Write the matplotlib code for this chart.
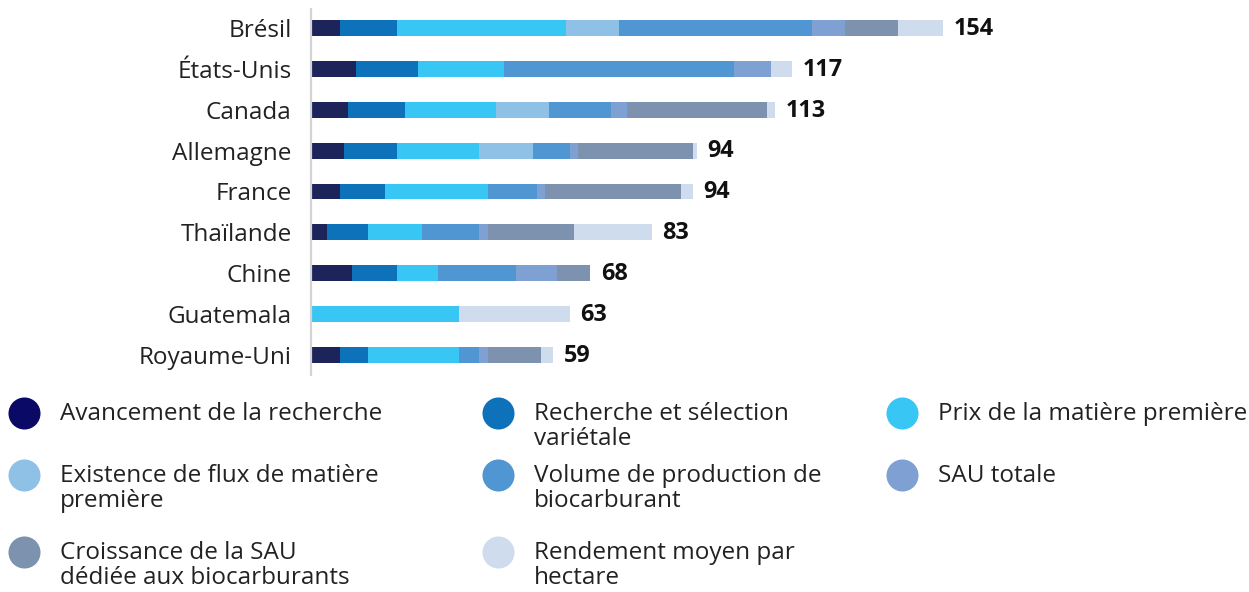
import numpy as np
import matplotlib
matplotlib.use("Agg")
import matplotlib.pyplot as plt

plt.rcParams['font.family'] = ['Open Sans', 'DejaVu Sans']

# données
pays = ['Brésil', 'États-Unis', 'Canada', 'Allemagne', 'France',
        'Thaïlande', 'Chine', 'Guatemala', 'Royaume-Uni']
totaux = [154, 117, 113, 94, 94, 83, 68, 63, 59]

avancement = [7, 11, 9, 8, 7, 4, 10, 0, 7]
recherche = [14, 15, 14, 13, 11, 10, 11, 0, 7]
prix = [41, 21, 22, 20, 25, 13, 10, 36, 22]
existence = [13, 0, 13, 13, 0, 0, 0, 0, 0]
volume = [47, 56, 15, 9, 12, 14, 19, 0, 5]
sau_totale = [8, 9, 4, 2, 2, 2, 10, 0, 2]
croissance = [13, 0, 34, 28, 33, 21, 8, 0, 13]
rendement = [11, 5, 2, 1, 3, 19, 0, 27, 3]

series = [avancement, recherche, prix, existence, volume, sau_totale, croissance, rendement]
noms = [
    "Avancement de la recherche",
    "Recherche et sélection\nvariétale",
    "Prix de la matière première",
    "Existence de flux de matière\npremière",
    "Volume de production de\nbiocarburant",
    "SAU totale",
    "Croissance de la SAU\ndédiée aux biocarburants",
    "Rendement moyen par\nhectare",
]
couleurs = ['#1d2459', '#0e72bb', '#38c6f4', '#8fc0e6',
            '#4f96d2', '#7fa0d2', '#7d92ae', '#cfdcee']
couleurs_legende = ['#0a0a66', '#0e72bb', '#38c6f4', '#8fc0e6',
                    '#4f96d2', '#7fa0d2', '#7d92ae', '#cfdcee']

W, H = 1249, 592
fig = plt.figure(figsize=(W / 100, H / 100), dpi=100)

# zone du graphique en pixels
x0, y_top, y_bot = 311, 9, 375
px_par_unite = 4.107
ax_w = 700
ax = fig.add_axes([x0 / W, 1 - y_bot / H, ax_w / W, (y_bot - y_top) / H])

pos = np.arange(len(pays))
gauche = np.zeros(len(pays))
for vals, c in zip(series, couleurs):
    vals = np.array(vals, dtype=float)
    ax.barh(pos, vals, left=gauche, height=0.39, color=c, linewidth=0)
    gauche += vals

for i, t in enumerate(totaux):
    ax.text(gauche[i] + 2.6, i + 0.02, str(t), va='center', ha='left',
            fontsize=16.8, fontweight='bold', color='#111111')

pas = 40.875
ax.set_xlim(0, ax_w / px_par_unite)
ax.set_ylim((y_bot - 28) / pas, (y_top - 28) / pas)
ax.set_yticks(pos)
ax.set_yticklabels(pays, fontsize=17.5, color='#222222')
ax.tick_params(axis='y', length=0, pad=14)
ax.set_xticks([])
for s in ['top', 'right', 'bottom']:
    ax.spines[s].set_visible(False)
ax.spines['left'].set_color('#d4d4d4')
ax.spines['left'].set_linewidth(1.6)

# légende dessinée en pixels
lg = fig.add_axes([0, 0, 1, 1])
lg.set_xlim(0, W)
lg.set_ylim(H, 0)
lg.axis('off')
col_x = [24, 498, 902]
row_y = [413, 475, 552]
for k, (nom, c) in enumerate(zip(noms, couleurs_legende)):
    r, col = divmod(k, 3)
    cx, cy = col_x[col], row_y[r]
    lg.scatter([cx], [cy], s=32 ** 2 * 0.52, color=c, linewidths=0)
    for j, ligne in enumerate(nom.split('\n')):
        lg.text(cx + 36, cy + 1 + j * 25, ligne, va='center', ha='left',
                fontsize=17.5, color='#222222')

fig.savefig('out.png', dpi=100)
